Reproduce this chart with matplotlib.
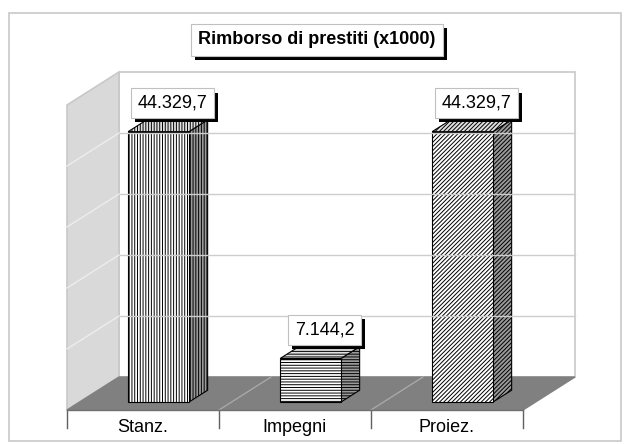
import matplotlib.pyplot as plt
import matplotlib.patheffects as pe
from matplotlib.patches import Polygon, Rectangle

plt.rcParams['font.family'] = ['Liberation Sans', 'DejaVu Sans']
plt.rcParams['hatch.linewidth'] = 0.7

title = "Rimborso di prestiti (x1000)"
categories = ["Stanz.", "Impegni", "Proiez."]
values = [44329.7, 7144.2, 44329.7]
labels = ["44.329,7", "7.144,2", "44.329,7"]
hatches = ["||||||", "------", "////////"]
ymax = 50000
grid_step = 10000

W, H = 629, 444
fig = plt.figure(figsize=(W / 100, H / 100), dpi=100)

# outer chart border
fig.patches.append(Rectangle((9 / W, 3 / H), 612 / W, 428 / H, transform=fig.transFigure,
                             fill=False, edgecolor='#c8c8c8', lw=1.2))

# front plane of the floor: x = category slots, y = value
ax = fig.add_axes([67 / W, (H - 410) / H, 456 / W, 305 / H])
ax.set_xlim(0, len(categories))
ax.set_ylim(0, ymax)
ax.axis('off')

# oblique depth offset (full depth of the floor) in data units
DX = 52 / 456 * len(categories)
DY = 33 / 305 * ymax


def P(x, y, d):
    return (x + d * DX, y + d * DY)


def face(pts, **kw):
    ax.add_patch(Polygon(pts, closed=True, clip_on=False, **kw))


n = len(categories)
# back wall, side wall, floor
face([P(0, 0, 1), P(n, 0, 1), P(n, ymax, 1), P(0, ymax, 1)],
     facecolor='white', edgecolor='#c8c8c8', lw=1.2)
face([P(0, 0, 0), P(0, 0, 1), P(0, ymax, 1), P(0, ymax, 0)],
     facecolor='#d9d9d9', edgecolor='#c8c8c8', lw=1.2)
face([P(0, 0, 0), P(n, 0, 0), P(n, 0, 1), P(0, 0, 1)],
     facecolor='#808080', edgecolor='#808080', lw=1)

for v in range(grid_step, ymax, grid_step):
    ax.plot(*zip(P(0, v, 1), P(n, v, 1)), color='#cdcdcd', lw=1, clip_on=False)
    ax.plot(*zip(P(0, v, 0), P(0, v, 1)), color='#ededed', lw=1, clip_on=False)

for k in range(1, n):
    ax.plot(*zip(P(k, 0, 0), P(k, 0, 1)), color='#a8a8a8', lw=1, clip_on=False)

# tick marks under the floor
tick_len = 18 / 305 * ymax
for k in range(n + 1):
    ax.plot([k, k], [0, -tick_len], color='#606060', lw=1, clip_on=False)
ax.plot([0, n], [0, 0], color='#707070', lw=1, clip_on=False)

# 3d bars
bx0, bx1 = 0.32, 0.72
d0, d1 = 0.24, 0.60
for i, (v, h) in enumerate(zip(values, hatches)):
    x0, x1 = i + bx0, i + bx1
    face([P(x1, 0, d0), P(x1, 0, d1), P(x1, v, d1), P(x1, v, d0)],
         facecolor='#9a9a9a', edgecolor='black', hatch=h, lw=0.8)
    face([P(x0, v, d0), P(x1, v, d0), P(x1, v, d1), P(x0, v, d1)],
         facecolor='#e0e0e0', edgecolor='black', hatch=h, lw=0.8)
    face([P(x0, 0, d0), P(x1, 0, d0), P(x1, v, d0), P(x0, v, d0)],
         facecolor='white', edgecolor='black', hatch=h, lw=0.8)

shadow = [pe.withSimplePatchShadow(offset=(3, -3), shadow_rgbFace='black', alpha=1)]

dm = (d0 + d1) / 2
for i, (v, lab) in enumerate(zip(values, labels)):
    t = ax.annotate(lab, xy=P(i + 0.55, v, dm), xytext=(0, 14), textcoords='offset pixels',
                    ha='center', va='bottom', fontsize=13, annotation_clip=False,
                    bbox=dict(boxstyle='square,pad=0.35', facecolor='white',
                              edgecolor='#c0c0c0', lw=0.8))
    t.get_bbox_patch().set_path_effects(shadow)

for i, c in enumerate(categories):
    ax.annotate(c, xy=P(i + 0.5, 0, 0), xytext=(0, -9), textcoords='offset pixels',
                ha='center', va='top', fontsize=13, annotation_clip=False)

tt = fig.text(317 / W, 1 - 40 / H, title, ha='center', va='center', fontsize=13,
              fontweight='bold',
              bbox=dict(boxstyle='square,pad=0.4', facecolor='white',
                        edgecolor='#c0c0c0', lw=0.8))
tt.get_bbox_patch().set_path_effects(shadow)

fig.savefig('out.png', dpi=100)
